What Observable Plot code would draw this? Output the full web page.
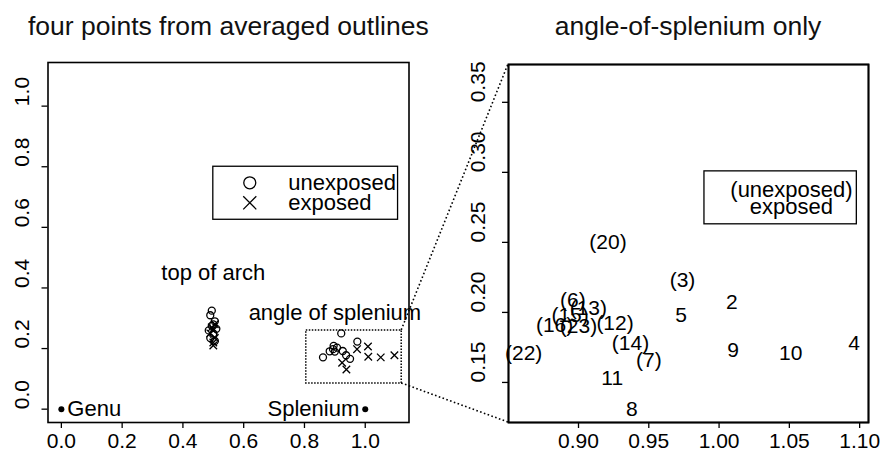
<!DOCTYPE html>
<html><head><meta charset="utf-8">
<script src="https://cdn.jsdelivr.net/npm/d3@7"></script>
<script src="https://cdn.jsdelivr.net/npm/@observablehq/plot@0.6"></script>
<style>
body{margin:0;background:#fff;}
#wrap{position:relative;width:883px;height:455px;background:#fff;font-family:"Liberation Sans",Arial,Helvetica,sans-serif;overflow:hidden;color:#000}
.title{position:absolute;top:11px;font-size:26.5px;line-height:30px;text-align:center;white-space:nowrap;color:#111;pointer-events:none}
.panel{position:absolute;top:0}
#overlay{position:absolute;left:0;top:0;pointer-events:none}
</style></head><body><div id="wrap"></div>
<script>
// ---- data ----
const subjectIds = [2, 3, 4, 5, 6, 7, 8, 9, 10, 11, 12, 13, 14, 15, 16, 20, 22, 23];
const exposedFlags = [1, 0, 1, 1, 0, 0, 1, 1, 1, 1, 0, 0, 0, 0, 0, 0, 0, 0];
const spleniumX = [1.009, 0.974, 1.096, 0.973, 0.896, 0.950, 0.938, 1.010, 1.051, 0.924, 0.926, 0.907, 0.937, 0.894, 0.883, 0.921, 0.861, 0.900];
const spleniumY = [0.207, 0.223, 0.178, 0.198, 0.209, 0.166, 0.131, 0.173, 0.171, 0.153, 0.192, 0.203, 0.178, 0.198, 0.191, 0.250, 0.171, 0.190];
const archX = [0.505, 0.495, 0.500, 0.495, 0.490, 0.505, 0.500, 0.490, 0.505, 0.500, 0.500, 0.495, 0.510, 0.485, 0.500, 0.500, 0.490, 0.505];
const archY = [0.280, 0.325, 0.220, 0.270, 0.310, 0.290, 0.210, 0.250, 0.235, 0.260, 0.280, 0.275, 0.265, 0.260, 0.250, 0.245, 0.235, 0.225];
const landmarkNames = ["Genu", "Splenium"];
const landmarkX = [0, 1];
const landmarkY = [0, 0];
const leftTicks = [0, 0.2, 0.4, 0.6, 0.8, 1.0];
const rightXTicks = [0.90, 0.95, 1.00, 1.05, 1.10];
const rightYTicks = [0.15, 0.20, 0.25, 0.30, 0.35];
const legendLabels = ["unexposed", "exposed"];
const rightLegendLabels = ["(unexposed)", "exposed"];
const titles = ["four points from averaged outlines", "angle-of-splenium only"];
const annotations = ["top of arch", "angle of splenium"];

// ---- derived tables ----
const subjects = subjectIds.map((id, i) => ({
  id, exposed: !!exposedFlags[i],
  sx: spleniumX[i], sy: spleniumY[i], ax: archX[i], ay: archY[i]
}));
const landmarks = landmarkNames.map((name, i) => ({name, x: landmarkX[i], y: landmarkY[i]}));
const unexp = subjects.filter(d => !d.exposed);
const exp = subjects.filter(d => d.exposed);

const FONT = '"Liberation Sans", Arial, Helvetica, sans-serif';
const wrap = document.getElementById("wrap");

// layout / annotation constants
const leftDomain = [-0.044, 1.144];
const rightXDomain = [0.8502, 1.1063];
const rightYDomain = [0.1214, 0.377];
const zoomX = [0.806, 1.12], zoomY = [0.085, 0.26];
const leftLegend = {x1: 0.5, x2: 1.108, y1: 0.625, y2: 0.80, sx: 0.62, tx: 0.747, y: [0.747, 0.681]};
const rightLegend = {x1: 0.9896, x2: 1.098, y1: 0.2629, y2: 0.3007, tx: 1.0515, y: [0.2875, 0.2755]};

const fmt1 = d3.format(".1f"), fmt2 = d3.format(".2f");

const left = Plot.plot({
  width: 441, height: 455,
  marginLeft: 47.5, marginRight: 32.5, marginTop: 62, marginBottom: 33,
  x: {domain: leftDomain, axis: null, label: null},
  y: {domain: leftDomain, axis: null, label: null},
  style: {fontFamily: FONT, fontSize: "21px", color: "#000", background: "transparent", overflow: "visible"},
  marks: [
    Plot.axisX(leftTicks, {tickSize: 6, tickPadding: 5, tickFormat: fmt1, fontSize: 21, strokeWidth: 1.3, label: null}),
    Plot.axisY(leftTicks, {tickSize: 6, tickFormat: () => "", strokeWidth: 1.3, label: null}),
    Plot.text(leftTicks, {y: d => d, text: fmt1, frameAnchor: "left", dx: -25.5, rotate: -90, fontSize: 21}),
    // zoom box
    Plot.rect([0], {x1: zoomX[0], x2: zoomX[1], y1: zoomY[0], y2: zoomY[1], fill: "none", stroke: "#000", strokeWidth: 1.5, strokeDasharray: "1.5,1.5"}),
    // landmarks
    Plot.dot(landmarks, {x: "x", y: "y", r: 3, fill: "#000", stroke: "none"}),
    Plot.text(landmarks.filter(d => d.x < 0.5), {x: "x", y: "y", text: "name", textAnchor: "start", dx: 6, fontSize: 22}),
    Plot.text(landmarks.filter(d => d.x >= 0.5), {x: "x", y: "y", text: "name", textAnchor: "end", dx: -6, fontSize: 22}),
    // subjects
    Plot.dot(unexp, {x: "ax", y: "ay", r: 3.5, symbol: "circle", stroke: "#000", strokeWidth: 1.3, fill: "none"}),
    Plot.dot(exp, {x: "ax", y: "ay", r: 3.5, symbol: "times", stroke: "#000", strokeWidth: 1.3}),
    Plot.dot(unexp, {x: "sx", y: "sy", r: 3.5, symbol: "circle", stroke: "#000", strokeWidth: 1.3, fill: "none"}),
    Plot.dot(exp, {x: "sx", y: "sy", r: 3.5, symbol: "times", stroke: "#000", strokeWidth: 1.3}),
    // annotations
    Plot.text([annotations[0]], {x: 0.5, y: 0.45, text: d => d, fontSize: 22}),
    Plot.text([annotations[1]], {x: 0.9, y: 0.318, text: d => d, fontSize: 22}),
    // legend
    Plot.rect([0], {x1: leftLegend.x1, x2: leftLegend.x2, y1: leftLegend.y1, y2: leftLegend.y2, fill: "none", stroke: "#000", strokeWidth: 1.3}),
    Plot.dot([0], {x: leftLegend.sx, y: leftLegend.y[0], r: 6, symbol: "circle", stroke: "#000", strokeWidth: 1.3, fill: "none"}),
    Plot.dot([0], {x: leftLegend.sx, y: leftLegend.y[1], r: 6, symbol: "times", stroke: "#000", strokeWidth: 1.3}),
    Plot.text(legendLabels, {x: leftLegend.tx, y: (d, i) => leftLegend.y[i], text: d => d, textAnchor: "start", fontSize: 22}),
    Plot.frame({stroke: "#000", strokeWidth: 1.6})
  ]
});

const right = Plot.plot({
  width: 442, height: 455,
  marginLeft: 67, marginRight: 15, marginTop: 64, marginBottom: 33,
  x: {domain: rightXDomain, axis: null, label: null},
  y: {domain: rightYDomain, axis: null, label: null},
  style: {fontFamily: FONT, fontSize: "21px", color: "#000", background: "transparent", overflow: "visible"},
  marks: [
    Plot.axisX(rightXTicks, {tickSize: 6, tickPadding: 5, tickFormat: fmt2, fontSize: 21, strokeWidth: 1.3, label: null}),
    Plot.axisY(rightYTicks, {tickSize: 6, tickFormat: () => "", strokeWidth: 1.3, label: null}),
    Plot.text(rightYTicks, {y: d => d, text: fmt2, frameAnchor: "left", dx: -30, rotate: -90, fontSize: 21}),
    Plot.text(subjects, {x: "sx", y: "sy", text: d => d.exposed ? String(d.id) : `(${d.id})`, fontSize: 21}),
    Plot.rect([0], {x1: rightLegend.x1, x2: rightLegend.x2, y1: rightLegend.y1, y2: rightLegend.y2, fill: "none", stroke: "#000", strokeWidth: 1.3}),
    Plot.text(rightLegendLabels, {x: rightLegend.tx, y: (d, i) => rightLegend.y[i], text: d => d, fontSize: 22}),
    Plot.frame({stroke: "#000", strokeWidth: 1.6})
  ]
});

const leftOffset = 0, rightOffset = 441;
left.classList.add("panel"); left.style.left = leftOffset + "px";
right.classList.add("panel"); right.style.left = rightOffset + "px";
wrap.appendChild(left);
wrap.appendChild(right);

// titles, centered over each frame
function addTitle(text, plot, offset) {
  const sx = plot.scale("x");
  const cx = offset + (sx.range[0] + sx.range[1]) / 2;
  const div = document.createElement("div");
  div.className = "title";
  div.textContent = text;
  div.style.left = (cx - 200) + "px";
  div.style.width = "400px";
  wrap.appendChild(div);
}
addTitle(titles[0], left, leftOffset);
addTitle(titles[1], right, rightOffset);

// dotted connector lines from zoom box to right panel frame (plus the right frame, drawn on top)
const lin = s => d3.scaleLinear(s.domain, s.range);
const lx = lin(left.scale("x")), ly = lin(left.scale("y"));
const rx = lin(right.scale("x")), ry = lin(right.scale("y"));
const fx0 = rightOffset + rx(rightXDomain[0]), fx1 = rightOffset + rx(rightXDomain[1]);
const fy0 = ry(rightYDomain[1]), fy1 = ry(rightYDomain[0]);
const segs = [
  [[leftOffset + lx(zoomX[1]), ly(zoomY[1])], [fx0, fy0]],
  [[leftOffset + lx(zoomX[1]), ly(zoomY[0])], [fx0, fy1]]
];
const ov = d3.select(wrap).append("svg").attr("id", "overlay").attr("width", 883).attr("height", 455);
ov.append("rect")
  .attr("x", fx0 + 0.5).attr("y", fy0 + 0.5)
  .attr("width", fx1 - fx0).attr("height", fy1 - fy0)
  .attr("fill", "none").attr("stroke", "#000").attr("stroke-width", 1.8);
ov.selectAll("line").data(segs).join("line")
  .attr("x1", d => d[0][0]).attr("y1", d => d[0][1])
  .attr("x2", d => d[1][0]).attr("y2", d => d[1][1])
  .attr("stroke", "#000").attr("stroke-width", 1.6).attr("stroke-dasharray", "1.6,2.4");
</script></body></html>
